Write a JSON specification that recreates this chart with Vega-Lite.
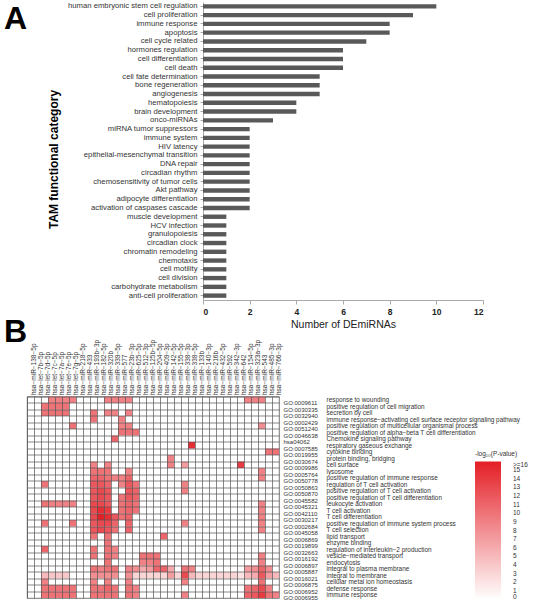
{
"$schema": "https://vega.github.io/schema/vega-lite/v6.json",
"padding": {"left": 3, "top": 1, "right": 0, "bottom": 0},
"autosize": {"type": "pad"},
"config": {"font": "Liberation Sans", "view": {"stroke": null}},
"bounds": "flush",
"spacing": 394.5,
"vconcat": [
{"spacing": 10, "hconcat": [
{
 "title": {"text": "A", "fontSize": 32, "fontWeight": "bold", "anchor": "start", "frame": "bounds", "orient": "top", "baseline": "top", "offset": -34, "dx": -23, "color": "black"},
 "width": 10, "height": 298,
 "data": {"values": []},
 "mark": {"type": "point", "opacity": 0},
 "encoding": {}
},
{
 "width": 280, "height": 298,
 "data": {"values": [
  {"category": "human embryonic stem cell regulation", "count": 10},
  {"category": "cell proliferation", "count": 9},
  {"category": "immune response", "count": 8},
  {"category": "apoptosis", "count": 8},
  {"category": "cell cycle related", "count": 7},
  {"category": "hormones regulation", "count": 6},
  {"category": "cell differentiation", "count": 6},
  {"category": "cell death", "count": 6},
  {"category": "cell fate determination", "count": 5},
  {"category": "bone regeneration", "count": 5},
  {"category": "angiogenesis", "count": 5},
  {"category": "hematopoiesis", "count": 4},
  {"category": "brain development", "count": 4},
  {"category": "onco-miRNAs", "count": 3},
  {"category": "miRNA tumor suppressors", "count": 2},
  {"category": "immune system", "count": 2},
  {"category": "HIV latency", "count": 2},
  {"category": "epithelial-mesenchymal transition", "count": 2},
  {"category": "DNA repair", "count": 2},
  {"category": "circadian rhythm", "count": 2},
  {"category": "chemosensitivity of tumor cells", "count": 2},
  {"category": "Akt pathway", "count": 2},
  {"category": "adipocyte differentiation", "count": 2},
  {"category": "activation of caspases cascade", "count": 2},
  {"category": "muscle development", "count": 1},
  {"category": "HCV infection", "count": 1},
  {"category": "granulopoiesis", "count": 1},
  {"category": "circadian clock", "count": 1},
  {"category": "chromatin remodeling", "count": 1},
  {"category": "chemotaxis", "count": 1},
  {"category": "cell motility", "count": 1},
  {"category": "cell division", "count": 1},
  {"category": "carbohydrate metabolism", "count": 1},
  {"category": "anti-cell proliferation", "count": 1}
 ]},
 "mark": {"type": "bar", "color": "#595959"},
 "encoding": {
  "y": {"field": "category", "type": "nominal", "sort": null,
        "scale": {"paddingInner": 0.5, "paddingOuter": 0.25},
        "axis": {"title": "TAM functional category", "titleFontSize": 12, "titleFontWeight": "bold", "titleColor": "black", "titlePadding": 7, "titleY": 157,
                 "labelFontSize": 7.7, "labelColor": "#333", "labelPadding": 3, "tickSize": 3, "tickColor": "#aaa", "domainColor": "#aaa", "labelLimit": 300}},
  "x": {"field": "count", "type": "quantitative", "scale": {"domain": [0, 12]},
        "axis": {"values": [0, 2, 4, 6, 8, 10, 12], "title": "Number of DEmiRNAs", "titleFontSize": 10.5, "titleFontWeight": "normal", "titleColor": "#222", "titlePadding": 4,
                 "labelFontSize": 8.5, "labelFontWeight": "bold", "labelColor": "#222", "grid": false, "tickSize": 4, "tickColor": "#aaa", "domainColor": "#aaa", "labelPadding": 3}}
 }
}
]},
{
 "title": {"text": "B", "fontSize": 32, "fontWeight": "bold", "anchor": "start", "frame": "bounds", "orient": "top", "baseline": "top", "offset": -10, "dx": -23, "color": "black"},
 "width": 252, "height": 201.5,
 "view": {"stroke": "#555", "strokeWidth": 0.8},
 "resolve": {"scale": {"y": "independent"}},
 "layer": [
  {
   "data": {"values": [
    {"g":"GO:0009611","m":"let−7c−5p","v":9},{"g":"GO:0009611","m":"let−7a−5p","v":9},{"g":"GO:0009611","m":"let−7e−5p","v":9},{"g":"GO:0009611","m":"let−7g−5p","v":9},{"g":"GO:0009611","m":"miR−320b","v":9},{"g":"GO:0009611","m":"miR−339−5p","v":9},{"g":"GO:0009611","m":"miR−577","v":9},{"g":"GO:0009611","m":"miR−23b−3p","v":9},{"g":"GO:0009611","m":"miR−154−5p","v":9},{"g":"GO:0009611","m":"miR−323a−3p","v":9},{"g":"GO:0009611","m":"miR−543","v":9},
    {"g":"GO:0030335","m":"let−7d−5p","v":10},{"g":"GO:0030335","m":"let−7c−5p","v":10},{"g":"GO:0030335","m":"let−7a−5p","v":10},{"g":"GO:0030335","m":"let−7e−5p","v":10},
    {"g":"GO:0032940","m":"let−7d−5p","v":10},{"g":"GO:0032940","m":"let−7c−5p","v":10},{"g":"GO:0032940","m":"let−7a−5p","v":10},{"g":"GO:0032940","m":"let−7e−5p","v":10},{"g":"GO:0032940","m":"miR−193b−3p","v":10},{"g":"GO:0032940","m":"miR−320b","v":9},{"g":"GO:0032940","m":"miR−339−5p","v":9},{"g":"GO:0032940","m":"miR−23b−3p","v":9},
    {"g":"GO:0002429","m":"miR−193b−3p","v":10},{"g":"GO:0002429","m":"miR−577","v":9},
    {"g":"GO:0051240","m":"let−7g−5p","v":10},{"g":"GO:0051240","m":"miR−577","v":9},{"g":"GO:0051240","m":"miR−23b−3p","v":9},{"g":"GO:0051240","m":"miR−543","v":8},
    {"g":"GO:0046638","m":"miR−577","v":10},{"g":"GO:0046638","m":"miR−23b−3p","v":10},{"g":"GO:0046638","m":"miR−625−5p","v":10},
    {"g":"hsa04062","m":"miR−339−5p","v":11},
    {"g":"GO:0007585","m":"miR−338−5p","v":15},
    {"g":"GO:0019955","m":"miR−485−3p","v":10},{"g":"GO:0019955","m":"miR−766−3p","v":10},
    {"g":"GO:0030674","m":"miR−142−5p","v":9},
    {"g":"GO:0009986","m":"miR−193b−3p","v":9},{"g":"GO:0009986","m":"miR−320b","v":9},{"g":"GO:0009986","m":"miR−142−5p","v":9},{"g":"GO:0009986","m":"miR−338−3p","v":7},{"g":"GO:0009986","m":"miR−642","v":14},
    {"g":"GO:0005764","m":"miR−193b−3p","v":10},{"g":"GO:0005764","m":"miR−182−5p","v":10},{"g":"GO:0005764","m":"miR−320b","v":10},{"g":"GO:0005764","m":"miR−23b−3p","v":9},{"g":"GO:0005764","m":"miR−543","v":9},
    {"g":"GO:0050778","m":"miR−193b−3p","v":11},{"g":"GO:0050778","m":"miR−182−5p","v":11},{"g":"GO:0050778","m":"miR−320b","v":10},{"g":"GO:0050778","m":"miR−339−5p","v":9},{"g":"GO:0050778","m":"miR−577","v":9},{"g":"GO:0050778","m":"miR−23b−3p","v":11},{"g":"GO:0050778","m":"miR−543","v":9},
    {"g":"GO:0050863","m":"let−7d−5p","v":10},{"g":"GO:0050863","m":"miR−193b−3p","v":12},{"g":"GO:0050863","m":"miR−182−5p","v":12},{"g":"GO:0050863","m":"miR−320b","v":11},{"g":"GO:0050863","m":"miR−577","v":9},{"g":"GO:0050863","m":"miR−23b−3p","v":12},{"g":"GO:0050863","m":"miR−625−5p","v":10},{"g":"GO:0050863","m":"miR−338−3p","v":9},
    {"g":"GO:0050870","m":"miR−193b−3p","v":12},{"g":"GO:0050870","m":"miR−182−5p","v":13},{"g":"GO:0050870","m":"miR−320b","v":12},{"g":"GO:0050870","m":"miR−23b−3p","v":12},{"g":"GO:0050870","m":"miR−625−5p","v":11},{"g":"GO:0050870","m":"miR−338−3p","v":9},
    {"g":"GO:0045582","m":"miR−193b−3p","v":12},{"g":"GO:0045582","m":"miR−182−5p","v":13},{"g":"GO:0045582","m":"miR−320b","v":12},{"g":"GO:0045582","m":"miR−577","v":10},{"g":"GO:0045582","m":"miR−23b−3p","v":12},{"g":"GO:0045582","m":"miR−625−5p","v":11},
    {"g":"GO:0045321","m":"let−7d−5p","v":10},{"g":"GO:0045321","m":"let−7c−5p","v":9},{"g":"GO:0045321","m":"let−7a−5p","v":9},{"g":"GO:0045321","m":"let−7e−5p","v":9},{"g":"GO:0045321","m":"let−7g−5p","v":9},{"g":"GO:0045321","m":"miR−193b−3p","v":13},{"g":"GO:0045321","m":"miR−182−5p","v":13},{"g":"GO:0045321","m":"miR−320b","v":12},{"g":"GO:0045321","m":"miR−577","v":10},{"g":"GO:0045321","m":"miR−23b−3p","v":11},{"g":"GO:0045321","m":"miR−625−5p","v":10},{"g":"GO:0045321","m":"miR−543","v":9},
    {"g":"GO:0042110","m":"miR−193b−3p","v":13},{"g":"GO:0042110","m":"miR−182−5p","v":15},{"g":"GO:0042110","m":"miR−320b","v":14},{"g":"GO:0042110","m":"miR−577","v":10},{"g":"GO:0042110","m":"miR−23b−3p","v":11},{"g":"GO:0042110","m":"miR−625−5p","v":10},{"g":"GO:0042110","m":"miR−543","v":9},
    {"g":"GO:0030217","m":"miR−193b−3p","v":13},{"g":"GO:0030217","m":"miR−182−5p","v":16},{"g":"GO:0030217","m":"miR−320b","v":15},{"g":"GO:0030217","m":"miR−339−5p","v":12},{"g":"GO:0030217","m":"miR−577","v":10},{"g":"GO:0030217","m":"miR−23b−3p","v":11},{"g":"GO:0030217","m":"miR−543","v":9},
    {"g":"GO:0002684","m":"let−7d−5p","v":10},{"g":"GO:0002684","m":"let−7g−5p","v":10},{"g":"GO:0002684","m":"miR−193b−3p","v":12},{"g":"GO:0002684","m":"miR−182−5p","v":13},{"g":"GO:0002684","m":"miR−320b","v":13},{"g":"GO:0002684","m":"miR−339−5p","v":11},{"g":"GO:0002684","m":"miR−23b−3p","v":11},{"g":"GO:0002684","m":"miR−338−3p","v":9},{"g":"GO:0002684","m":"miR−543","v":9},
    {"g":"GO:0045058","m":"miR−193b−3p","v":12},{"g":"GO:0045058","m":"miR−182−5p","v":13},{"g":"GO:0045058","m":"miR−320b","v":12},{"g":"GO:0045058","m":"miR−339−5p","v":10},{"g":"GO:0045058","m":"miR−23b−3p","v":11},{"g":"GO:0045058","m":"miR−543","v":9},
    {"g":"GO:0006869","m":"miR−193b−3p","v":10},{"g":"GO:0006869","m":"miR−320b","v":10},{"g":"GO:0006869","m":"miR−409−3p","v":11},
    {"g":"GO:0019899","m":"miR−320b","v":10},
    {"g":"GO:0032663","m":"let−7d−5p","v":11},{"g":"GO:0032663","m":"miR−193b−3p","v":10},{"g":"GO:0032663","m":"miR−320b","v":10},{"g":"GO:0032663","m":"miR−339−5p","v":9},
    {"g":"GO:0016192","m":"miR−193b−3p","v":10},{"g":"GO:0016192","m":"miR−320b","v":10},{"g":"GO:0016192","m":"miR−339−5p","v":9},{"g":"GO:0016192","m":"miR−512−3p","v":10},{"g":"GO:0016192","m":"miR−125b−5p","v":10},{"g":"GO:0016192","m":"miR−204−5p","v":10},{"g":"GO:0016192","m":"miR−543","v":9},
    {"g":"GO:0006897","m":"miR−320b","v":10},{"g":"GO:0006897","m":"miR−512−3p","v":9},{"g":"GO:0006897","m":"miR−125b−5p","v":9},{"g":"GO:0006897","m":"miR−204−5p","v":10},{"g":"GO:0006897","m":"miR−543","v":9},
    {"g":"GO:0005887","m":"miR−193b−3p","v":10},{"g":"GO:0005887","m":"miR−182−5p","v":9},{"g":"GO:0005887","m":"miR−320b","v":10},{"g":"GO:0005887","m":"miR−339−5p","v":10},{"g":"GO:0005887","m":"miR−23b−3p","v":9},{"g":"GO:0005887","m":"miR−625−5p","v":8},{"g":"GO:0005887","m":"miR−512−3p","v":6},{"g":"GO:0005887","m":"miR−125b−5p","v":7},{"g":"GO:0005887","m":"miR−204−5p","v":11},{"g":"GO:0005887","m":"miR−409−3p","v":11},{"g":"GO:0005887","m":"miR−142−5p","v":6},{"g":"GO:0005887","m":"miR−338−3p","v":10},{"g":"GO:0005887","m":"miR−338−5p","v":9},{"g":"GO:0005887","m":"miR−154−5p","v":7},{"g":"GO:0005887","m":"miR−323a−3p","v":8},{"g":"GO:0005887","m":"miR−543","v":11},{"g":"GO:0005887","m":"miR−485−3p","v":8},
    {"g":"GO:0016021","m":"let−7d−5p","v":5},{"g":"GO:0016021","m":"let−7c−5p","v":4},{"g":"GO:0016021","m":"let−7a−5p","v":4},{"g":"GO:0016021","m":"let−7e−5p","v":4},{"g":"GO:0016021","m":"miR−193b−3p","v":8},{"g":"GO:0016021","m":"miR−182−5p","v":8},{"g":"GO:0016021","m":"miR−320b","v":8},{"g":"GO:0016021","m":"miR−339−5p","v":8},{"g":"GO:0016021","m":"miR−23b−3p","v":8},{"g":"GO:0016021","m":"miR−625−5p","v":3},{"g":"GO:0016021","m":"miR−512−3p","v":3},{"g":"GO:0016021","m":"miR−125b−5p","v":3},{"g":"GO:0016021","m":"miR−204−5p","v":3},{"g":"GO:0016021","m":"miR−409−3p","v":3},{"g":"GO:0016021","m":"miR−142−5p","v":7},{"g":"GO:0016021","m":"miR−155−5p","v":3},{"g":"GO:0016021","m":"miR−338−3p","v":13},{"g":"GO:0016021","m":"miR−338−5p","v":5},{"g":"GO:0016021","m":"miR−133b","v":3},{"g":"GO:0016021","m":"miR−140−3p","v":3},{"g":"GO:0016021","m":"miR−216b","v":3},{"g":"GO:0016021","m":"miR−432−5p","v":3},{"g":"GO:0016021","m":"miR−592","v":3},{"g":"GO:0016021","m":"miR−342−3p","v":3},{"g":"GO:0016021","m":"miR−642","v":2},{"g":"GO:0016021","m":"miR−154−5p","v":5},{"g":"GO:0016021","m":"miR−323a−3p","v":6},{"g":"GO:0016021","m":"miR−543","v":12},{"g":"GO:0016021","m":"miR−485−3p","v":7},{"g":"GO:0016021","m":"miR−766−3p","v":5},
    {"g":"GO:0006875","m":"let−7d−5p","v":9},{"g":"GO:0006875","m":"miR−193b−3p","v":9},{"g":"GO:0006875","m":"miR−320b","v":9},{"g":"GO:0006875","m":"miR−23b−3p","v":9},{"g":"GO:0006875","m":"miR−338−3p","v":9},{"g":"GO:0006875","m":"miR−543","v":10},
    {"g":"GO:0006952","m":"let−7d−5p","v":10},{"g":"GO:0006952","m":"let−7c−5p","v":10},{"g":"GO:0006952","m":"let−7a−5p","v":10},{"g":"GO:0006952","m":"let−7e−5p","v":10},{"g":"GO:0006952","m":"let−7g−5p","v":10},{"g":"GO:0006952","m":"miR−193b−3p","v":10},{"g":"GO:0006952","m":"miR−182−5p","v":10},{"g":"GO:0006952","m":"miR−320b","v":11},{"g":"GO:0006952","m":"miR−339−5p","v":10},{"g":"GO:0006952","m":"miR−23b−3p","v":10},{"g":"GO:0006952","m":"miR−625−5p","v":9},{"g":"GO:0006952","m":"miR−154−5p","v":10},{"g":"GO:0006952","m":"miR−323a−3p","v":11},{"g":"GO:0006952","m":"miR−543","v":13},{"g":"GO:0006952","m":"miR−485−3p","v":9},
    {"g":"GO:0006955","m":"let−7d−5p","v":10},{"g":"GO:0006955","m":"let−7c−5p","v":10},{"g":"GO:0006955","m":"let−7a−5p","v":10},{"g":"GO:0006955","m":"let−7e−5p","v":10},{"g":"GO:0006955","m":"let−7g−5p","v":10},{"g":"GO:0006955","m":"miR−193b−3p","v":10},{"g":"GO:0006955","m":"miR−182−5p","v":10},{"g":"GO:0006955","m":"miR−320b","v":10},{"g":"GO:0006955","m":"miR−339−5p","v":10},{"g":"GO:0006955","m":"miR−23b−3p","v":10},{"g":"GO:0006955","m":"miR−625−5p","v":9},{"g":"GO:0006955","m":"miR−338−3p","v":9},{"g":"GO:0006955","m":"miR−154−5p","v":11},{"g":"GO:0006955","m":"miR−323a−3p","v":12},{"g":"GO:0006955","m":"miR−543","v":14},{"g":"GO:0006955","m":"miR−485−3p","v":10},{"g":"GO:0006955","m":"miR−766−3p","v":9}
   ]},
   "mark": {"type": "rect"},
   "encoding": {
    "x": {"field": "m", "type": "nominal",
          "scale": {"domain": ["miR−138−5p","let−7b−5p","let−7d−5p","let−7c−5p","let−7a−5p","let−7e−5p","let−7g−5p","miR−218−5p","miR−433","miR−193b−3p","miR−182−5p","miR−320b","miR−339−5p","miR−577","miR−23b−3p","miR−625−5p","miR−512−3p","miR−125b−5p","miR−204−5p","miR−409−3p","miR−142−5p","miR−155−5p","miR−338−3p","miR−338−5p","miR−133b","miR−140−3p","miR−216b","miR−432−5p","miR−592","miR−342−3p","miR−642","miR−154−5p","miR−323a−3p","miR−543","miR−485−3p","miR−766−3p"], "paddingInner": 0, "paddingOuter": 0},
          "axis": {"orient": "top", "title": null, "labelAngle": -90, "labelExpr": "'hsa−' + datum.label", "labelFontSize": 6.5, "labelColor": "#333", "labelPadding": 2, "ticks": false, "domain": false,
                   "grid": true, "gridColor": "#555", "gridWidth": 0.7, "bandPosition": 0, "labelOffset": 3.5, "zindex": 1, "labelAlign": "left", "labelBaseline": "middle"}},
    "y": {"field": "g", "type": "nominal",
          "scale": {"domain": ["GO:0009611","GO:0030335","GO:0032940","GO:0002429","GO:0051240","GO:0046638","hsa04062","GO:0007585","GO:0019955","GO:0030674","GO:0009986","GO:0005764","GO:0050778","GO:0050863","GO:0050870","GO:0045582","GO:0045321","GO:0042110","GO:0030217","GO:0002684","GO:0045058","GO:0006869","GO:0019899","GO:0032663","GO:0016192","GO:0006897","GO:0005887","GO:0016021","GO:0006875","GO:0006952","GO:0006955"], "paddingInner": 0, "paddingOuter": 0},
          "axis": {"orient": "right", "title": null, "labelFontSize": 6, "labelColor": "#333", "labelPadding": 4, "ticks": false, "domain": false,
                   "grid": true, "gridColor": "#555", "gridWidth": 0.7, "bandPosition": 0, "labelOffset": 3.25, "zindex": 1, "labelBaseline": "middle"}},
    "color": {"field": "v", "type": "quantitative",
              "scale": {"domain": [0, 16], "range": ["#ffffff", "#e41f26"], "clamp": true, "interpolate": "rgb"},
              "legend": {"orient": "none", "legendX": 448, "legendY": 449, "direction": "vertical", "title": "-log₁₀(P-value)", "titleFontSize": 6.5, "titleFontWeight": "normal", "titleColor": "#333", "titlePadding": 4,
                         "gradientLength": 138, "gradientThickness": 26, "gradientStrokeWidth": 0,
                         "values": [0,1,2,3,4,5,6,7,8,9,10,11,12,13,14,15,16], "labelExpr": "datum.value >= 16 ? '>=16' : datum.label",
                         "labelFontSize": 6.5, "labelColor": "#333", "labelOffset": 12, "labelOverlap": false}}
   }
  },
  {
   "data": {"values": [
    {"d": "response to wounding"},
    {"d": "positive regulation of cell migration"},
    {"d": "secretion by cell"},
    {"d": "immune response−activating cell surface receptor signaling pathway"},
    {"d": "positive regulation of multicellular organismal process"},
    {"d": "positive regulation of alpha−beta T cell differentiation"},
    {"d": "Chemokine signaling pathway"},
    {"d": "respiratory gaseous exchange"},
    {"d": "cytokine binding"},
    {"d": "protein binding, bridging"},
    {"d": "cell surface"},
    {"d": "lysosome"},
    {"d": "positive regulation of immune response"},
    {"d": "regulation of T cell activation"},
    {"d": "positive regulation of T cell activation"},
    {"d": "positive regulation of T cell differentiation"},
    {"d": "leukocyte activation"},
    {"d": "T cell activation"},
    {"d": "T cell differentiation"},
    {"d": "positive regulation of immune system process"},
    {"d": "T cell selection"},
    {"d": "lipid transport"},
    {"d": "enzyme binding"},
    {"d": "regulation of interleukin−2 production"},
    {"d": "vesicle−mediated transport"},
    {"d": "endocytosis"},
    {"d": "integral to plasma membrane"},
    {"d": "integral to membrane"},
    {"d": "cellular metal ion homeostasis"},
    {"d": "defense response"},
    {"d": "immune response"}
   ]},
   "mark": {"type": "text", "text": ""},
   "encoding": {
    "y": {"field": "d", "type": "nominal", "sort": null,
          "axis": {"orient": "right", "offset": 43, "title": null, "labelFontSize": 6.4, "labelColor": "#333", "labelPadding": 4, "ticks": false, "domain": false, "grid": false, "labelLimit": 300}}
   }
  }
 ]
}
]
}
